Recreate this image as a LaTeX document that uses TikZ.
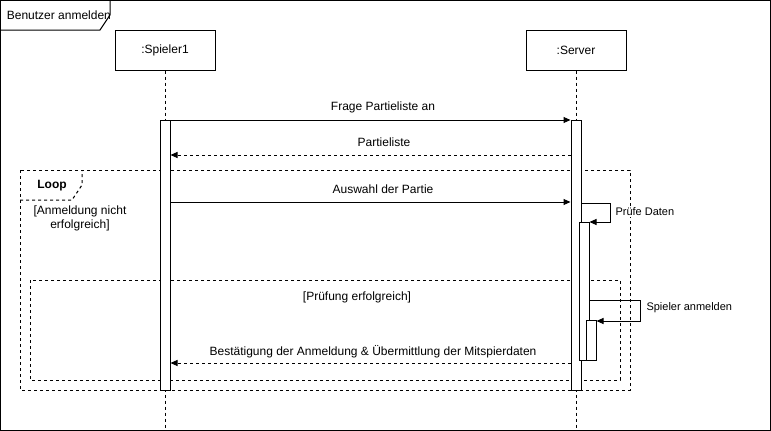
\documentclass[tikz,border=0pt]{standalone}
\usepackage{fontspec}
\setmainfont{Liberation Sans}
\usetikzlibrary{arrows.meta}
\begin{document}
\begin{tikzpicture}[x=1pt,y=-1pt,line width=1pt,font=\fontsize{12}{14}\selectfont]
\tikzstyle{kasten} = [draw,minimum width=100pt,minimum height=40pt,inner sep=0pt] %Objekte
\tikzstyle{aktiv} = [draw,fill=white,minimum width=10pt,inner sep=0pt,anchor=north] %Aktivierung
\tikzstyle{gestrichelt} = [dash pattern=on 3pt off 3pt]
\tikzstyle{nachricht} = [-{Triangle[length=7pt,width=6pt]}]
\tikzstyle{antwort} = [nachricht,gestrichelt]
\tikzstyle{klein} = [font=\fontsize{11}{13}\selectfont,fill=white,inner sep=1pt]
\useasboundingbox (0,0) rectangle (771,431);

%Rahmen
\draw (0.5,0.5) rectangle (770.5,430.5);
\draw (0.5,30) -- (100,30) -- (110,15) -- (110,0.5);
\node[anchor=west] (titel) at (3,15) {Benutzer anmelden};

%Loop und alt
\draw[gestrichelt] (20,170) rectangle (630,390);
\draw[gestrichelt] (20,200) -- (72,200) -- (82,185) -- (82,170);
\node[font=\fontsize{12}{14}\selectfont\bfseries] (loop) at (52,186) {Loop};
\node[align=center] (bedingung) at (80,218) {[Anmeldung nicht\\erfolgreich]};
\draw[gestrichelt] (30,280) rectangle (620,380);
\node (pruefung) at (357,297) {[Prüfung erfolgreich]};

%Objekte und Lebenslinien
\node[kasten] (spieler) at (165,50) {:Spieler1};
\node[kasten] (server) at (576,50) {:Server};
\coordinate (ende) at (0,430);
\draw[gestrichelt] (spieler.south) -- (spieler.south |- ende);
\draw[gestrichelt] (server.south) -- (server.south |- ende);

%Aktivierungen
\node[aktiv,minimum height=270pt] (aktA) at (165,120) {};
\node[aktiv,minimum height=270pt] (aktB) at (576,120) {};
\node[aktiv,minimum height=138pt] (aktC) at (584,222) {};
\node[aktiv,minimum height=40pt] (aktD) at (591,320) {};

%Nachrichten
\coordinate (m2) at (0,155);
\coordinate (m3) at (0,202);
\coordinate (m4) at (0,363);
\coordinate (s1) at (0,203);
\coordinate (s2) at (0,300);
\draw[nachricht] (aktA.north east) -- (aktB.north west);
\node (n1) at (383,107) {Frage Partieliste an};
\draw[antwort] (aktB.west |- m2) -- (aktA.east |- m2);
\node (n2) at (384,142) {Partieliste};
\draw[nachricht] (aktA.east |- m3) -- (aktB.west |- m3);
\node (n3) at (383,189) {Auswahl der Partie};
\draw[nachricht] (aktB.east |- s1) -- ++(29,0) |- (aktC.north east);
\node[klein,anchor=west] (n4) at (614,212) {Prüfe Daten};
\draw[nachricht] (aktC.east |- s2) -- (640,300) |- ([yshift=-1pt]aktD.north east);
\node[klein,anchor=west] (n5) at (645,308) {Spieler anmelden};
\draw[antwort] (aktB.west |- m4) -- (aktA.east |- m4);
\node (n6) at (373,352) {Bestätigung der Anmeldung \& Übermittlung der Mitspierdaten};
\end{tikzpicture}
\end{document}
